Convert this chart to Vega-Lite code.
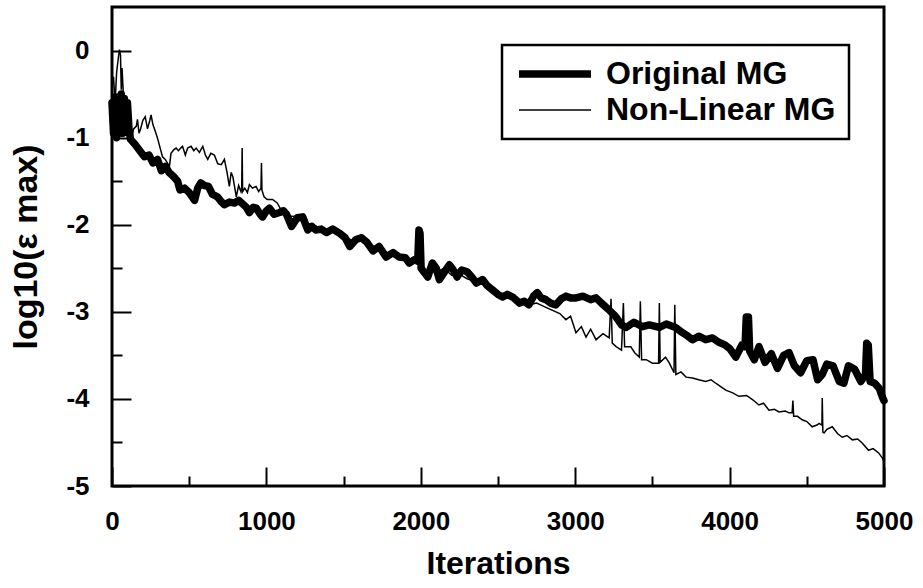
{
  "$schema": "https://vega.github.io/schema/vega-lite/v6.json",
  "width": 772,
  "height": 479,
  "autosize": "none",
  "padding": {"left": 112, "top": 7, "right": 39, "bottom": 102},
  "background": "white",
  "config": {
    "view": {"stroke": "black", "strokeWidth": 3},
    "font": "Liberation Sans"
  },
  "datasets": {
    "orig": [
      {"i":0,"v":-0.6},{"i":10,"v":-0.95},{"i":20,"v":-0.55},{"i":30,"v":-1.0},{"i":40,"v":-0.6},{"i":50,"v":-0.9},{"i":60,"v":-0.5},{"i":70,"v":-0.95},{"i":80,"v":-0.55},{"i":90,"v":-0.85},{"i":100,"v":-0.6},{"i":110,"v":-0.9},{"i":120,"v":-1.02},{"i":150,"v":-1.08},{"i":180,"v":-1.15},{"i":210,"v":-1.22},{"i":240,"v":-1.2},{"i":265,"v":-1.29},{"i":295,"v":-1.25},{"i":320,"v":-1.38},{"i":345,"v":-1.33},{"i":370,"v":-1.4},{"i":400,"v":-1.45},{"i":425,"v":-1.5},{"i":440,"v":-1.6},{"i":470,"v":-1.58},{"i":500,"v":-1.63},{"i":535,"v":-1.72},{"i":555,"v":-1.58},{"i":575,"v":-1.52},{"i":600,"v":-1.55},{"i":625,"v":-1.56},{"i":650,"v":-1.65},{"i":683,"v":-1.68},{"i":710,"v":-1.74},{"i":728,"v":-1.77},{"i":760,"v":-1.74},{"i":793,"v":-1.75},{"i":820,"v":-1.72},{"i":845,"v":-1.76},{"i":870,"v":-1.8},{"i":890,"v":-1.86},{"i":915,"v":-1.8},{"i":935,"v":-1.81},{"i":960,"v":-1.88},{"i":975,"v":-1.91},{"i":1000,"v":-1.84},{"i":1020,"v":-1.81},{"i":1050,"v":-1.88},{"i":1085,"v":-1.86},{"i":1110,"v":-1.84},{"i":1130,"v":-1.88},{"i":1163,"v":-2.02},{"i":1200,"v":-1.92},{"i":1235,"v":-1.91},{"i":1268,"v":-2.06},{"i":1295,"v":-2.02},{"i":1320,"v":-2.06},{"i":1355,"v":-2.05},{"i":1390,"v":-2.09},{"i":1430,"v":-2.05},{"i":1475,"v":-2.1},{"i":1510,"v":-2.15},{"i":1540,"v":-2.25},{"i":1580,"v":-2.17},{"i":1615,"v":-2.15},{"i":1650,"v":-2.2},{"i":1690,"v":-2.3},{"i":1730,"v":-2.25},{"i":1775,"v":-2.37},{"i":1820,"v":-2.32},{"i":1860,"v":-2.37},{"i":1900,"v":-2.38},{"i":1925,"v":-2.44},{"i":1960,"v":-2.4},{"i":1980,"v":-2.42},{"i":1988,"v":-2.06},{"i":1995,"v":-2.1},{"i":2002,"v":-2.5},{"i":2045,"v":-2.6},{"i":2075,"v":-2.44},{"i":2100,"v":-2.5},{"i":2120,"v":-2.63},{"i":2150,"v":-2.55},{"i":2185,"v":-2.46},{"i":2210,"v":-2.52},{"i":2235,"v":-2.6},{"i":2265,"v":-2.52},{"i":2300,"v":-2.54},{"i":2330,"v":-2.6},{"i":2360,"v":-2.67},{"i":2400,"v":-2.63},{"i":2430,"v":-2.7},{"i":2465,"v":-2.75},{"i":2500,"v":-2.8},{"i":2530,"v":-2.83},{"i":2560,"v":-2.8},{"i":2595,"v":-2.83},{"i":2640,"v":-2.9},{"i":2670,"v":-2.88},{"i":2700,"v":-2.92},{"i":2730,"v":-2.82},{"i":2755,"v":-2.78},{"i":2780,"v":-2.84},{"i":2810,"v":-2.86},{"i":2840,"v":-2.9},{"i":2875,"v":-2.92},{"i":2910,"v":-2.85},{"i":2940,"v":-2.82},{"i":2970,"v":-2.84},{"i":3005,"v":-2.84},{"i":3050,"v":-2.82},{"i":3100,"v":-2.86},{"i":3135,"v":-2.84},{"i":3170,"v":-2.9},{"i":3220,"v":-2.98},{"i":3260,"v":-3.05},{"i":3300,"v":-3.15},{"i":3330,"v":-3.18},{"i":3380,"v":-3.12},{"i":3435,"v":-3.17},{"i":3480,"v":-3.15},{"i":3545,"v":-3.18},{"i":3590,"v":-3.14},{"i":3650,"v":-3.18},{"i":3695,"v":-3.24},{"i":3730,"v":-3.28},{"i":3760,"v":-3.32},{"i":3800,"v":-3.28},{"i":3845,"v":-3.32},{"i":3890,"v":-3.3},{"i":3930,"v":-3.35},{"i":3970,"v":-3.38},{"i":4000,"v":-3.42},{"i":4040,"v":-3.52},{"i":4080,"v":-3.38},{"i":4100,"v":-3.4},{"i":4108,"v":-3.06},{"i":4122,"v":-3.06},{"i":4130,"v":-3.45},{"i":4160,"v":-3.55},{"i":4190,"v":-3.4},{"i":4230,"v":-3.58},{"i":4270,"v":-3.48},{"i":4310,"v":-3.65},{"i":4350,"v":-3.5},{"i":4385,"v":-3.47},{"i":4420,"v":-3.62},{"i":4460,"v":-3.7},{"i":4500,"v":-3.56},{"i":4540,"v":-3.55},{"i":4570,"v":-3.78},{"i":4600,"v":-3.72},{"i":4630,"v":-3.6},{"i":4670,"v":-3.62},{"i":4710,"v":-3.8},{"i":4740,"v":-3.82},{"i":4770,"v":-3.62},{"i":4810,"v":-3.66},{"i":4850,"v":-3.8},{"i":4880,"v":-3.72},{"i":4888,"v":-3.36},{"i":4898,"v":-3.38},{"i":4910,"v":-3.8},{"i":4940,"v":-3.82},{"i":4970,"v":-3.88},{"i":4990,"v":-3.98},{"i":5000,"v":-4.02}
    ],
    "nonlin": [
      {"i":0,"v":-0.4},{"i":10,"v":-0.3},{"i":20,"v":-0.6},{"i":30,"v":-0.25},{"i":40,"v":-0.1},{"i":48,"v":0.01},{"i":55,"v":-0.05},{"i":60,"v":-0.45},{"i":65,"v":-0.2},{"i":75,"v":-0.55},{"i":85,"v":-0.8},{"i":95,"v":-0.65},{"i":105,"v":-0.9},{"i":115,"v":-0.95},{"i":125,"v":-1.02},{"i":140,"v":-0.9},{"i":157,"v":-0.87},{"i":165,"v":-0.79},{"i":175,"v":-0.95},{"i":185,"v":-0.9},{"i":200,"v":-0.8},{"i":215,"v":-0.76},{"i":230,"v":-0.9},{"i":245,"v":-0.8},{"i":253,"v":-0.74},{"i":265,"v":-0.85},{"i":283,"v":-0.94},{"i":297,"v":-1.02},{"i":315,"v":-1.14},{"i":327,"v":-1.22},{"i":345,"v":-1.25},{"i":372,"v":-1.33},{"i":382,"v":-1.18},{"i":400,"v":-1.14},{"i":415,"v":-1.12},{"i":430,"v":-1.15},{"i":445,"v":-1.12},{"i":457,"v":-1.1},{"i":475,"v":-1.2},{"i":490,"v":-1.12},{"i":512,"v":-1.1},{"i":530,"v":-1.15},{"i":545,"v":-1.12},{"i":566,"v":-1.17},{"i":588,"v":-1.1},{"i":605,"v":-1.2},{"i":620,"v":-1.25},{"i":640,"v":-1.18},{"i":663,"v":-1.2},{"i":685,"v":-1.3},{"i":708,"v":-1.31},{"i":728,"v":-1.25},{"i":745,"v":-1.4},{"i":760,"v":-1.56},{"i":772,"v":-1.4},{"i":783,"v":-1.45},{"i":805,"v":-1.68},{"i":820,"v":-1.55},{"i":835,"v":-1.62},{"i":840,"v":-1.58},{"i":843,"v":-1.12},{"i":846,"v":-1.62},{"i":860,"v":-1.58},{"i":877,"v":-1.63},{"i":890,"v":-1.54},{"i":910,"v":-1.58},{"i":933,"v":-1.56},{"i":950,"v":-1.62},{"i":965,"v":-1.58},{"i":968,"v":-1.29},{"i":971,"v":-1.6},{"i":985,"v":-1.68},{"i":1005,"v":-1.71},{"i":1040,"v":-1.71},{"i":1070,"v":-1.75},{"i":1105,"v":-1.86},{"i":1150,"v":-1.9},{"i":1213,"v":-1.91},{"i":1250,"v":-1.98},{"i":1300,"v":-2.0},{"i":1350,"v":-2.04},{"i":1400,"v":-2.05},{"i":1450,"v":-2.08},{"i":1500,"v":-2.12},{"i":1550,"v":-2.18},{"i":1600,"v":-2.16},{"i":1650,"v":-2.22},{"i":1700,"v":-2.28},{"i":1750,"v":-2.3},{"i":1800,"v":-2.34},{"i":1850,"v":-2.36},{"i":1900,"v":-2.4},{"i":1950,"v":-2.42},{"i":1980,"v":-2.43},{"i":1990,"v":-2.08},{"i":1998,"v":-2.12},{"i":2005,"v":-2.55},{"i":2050,"v":-2.52},{"i":2100,"v":-2.55},{"i":2150,"v":-2.5},{"i":2200,"v":-2.58},{"i":2250,"v":-2.57},{"i":2300,"v":-2.62},{"i":2350,"v":-2.65},{"i":2400,"v":-2.68},{"i":2450,"v":-2.72},{"i":2500,"v":-2.78},{"i":2550,"v":-2.82},{"i":2600,"v":-2.85},{"i":2650,"v":-2.88},{"i":2700,"v":-2.92},{"i":2750,"v":-2.9},{"i":2800,"v":-2.94},{"i":2850,"v":-2.98},{"i":2900,"v":-3.02},{"i":2940,"v":-3.09},{"i":2970,"v":-3.05},{"i":3005,"v":-3.24},{"i":3040,"v":-3.17},{"i":3070,"v":-3.29},{"i":3100,"v":-3.2},{"i":3135,"v":-3.32},{"i":3180,"v":-3.25},{"i":3220,"v":-3.3},{"i":3232,"v":-2.85},{"i":3240,"v":-3.36},{"i":3265,"v":-3.4},{"i":3300,"v":-3.44},{"i":3312,"v":-2.9},{"i":3320,"v":-3.4},{"i":3360,"v":-3.4},{"i":3385,"v":-3.47},{"i":3415,"v":-3.52},{"i":3422,"v":-2.88},{"i":3430,"v":-3.55},{"i":3460,"v":-3.55},{"i":3500,"v":-3.59},{"i":3540,"v":-3.59},{"i":3545,"v":-2.9},{"i":3550,"v":-3.58},{"i":3585,"v":-3.52},{"i":3610,"v":-3.59},{"i":3640,"v":-3.7},{"i":3645,"v":-2.92},{"i":3652,"v":-3.72},{"i":3685,"v":-3.69},{"i":3718,"v":-3.75},{"i":3760,"v":-3.76},{"i":3800,"v":-3.78},{"i":3845,"v":-3.8},{"i":3880,"v":-3.78},{"i":3910,"v":-3.82},{"i":3975,"v":-3.9},{"i":4020,"v":-3.93},{"i":4060,"v":-3.97},{"i":4110,"v":-3.96},{"i":4150,"v":-4.01},{"i":4190,"v":-4.07},{"i":4220,"v":-4.05},{"i":4255,"v":-4.13},{"i":4290,"v":-4.12},{"i":4320,"v":-4.15},{"i":4360,"v":-4.14},{"i":4385,"v":-4.16},{"i":4405,"v":-4.16},{"i":4410,"v":-4.02},{"i":4415,"v":-4.2},{"i":4440,"v":-4.2},{"i":4470,"v":-4.24},{"i":4500,"v":-4.26},{"i":4535,"v":-4.32},{"i":4565,"v":-4.3},{"i":4580,"v":-4.28},{"i":4598,"v":-4.3},{"i":4600,"v":-3.99},{"i":4604,"v":-4.38},{"i":4612,"v":-4.39},{"i":4630,"v":-4.35},{"i":4665,"v":-4.32},{"i":4700,"v":-4.4},{"i":4730,"v":-4.44},{"i":4760,"v":-4.42},{"i":4795,"v":-4.47},{"i":4830,"v":-4.46},{"i":4860,"v":-4.51},{"i":4900,"v":-4.59},{"i":4930,"v":-4.57},{"i":4965,"v":-4.62},{"i":4990,"v":-4.68},{"i":5000,"v":-4.72}
    ]
  },
  "encoding": {
    "x": {
      "field": "i", "type": "quantitative",
      "scale": {"domain": [0, 5000], "nice": false},
      "axis": {
        "title": "Iterations",
        "values": [0,500,1000,1500,2000,2500,3000,3500,4000,4500,5000],
        "labelExpr": "datum.value % 1000 === 0 ? toString(datum.value) : ''",
        "grid": false, "domain": false,
        "tickColor": "black", "tickWidth": 2,
        "tickSize": {"condition": {"test": "datum.value % 1000 === 0", "value": -19}, "value": -10},
        "labelFont": "Liberation Sans", "labelFontSize": 26, "labelFontWeight": "bold", "labelColor": "black",
        "labelPadding": 41, "labelFlush": false, "labelOverlap": false,
        "titleFont": "Liberation Sans", "titleFontSize": 32, "titleFontWeight": "bold", "titleColor": "black",
        "titlePadding": 5
      }
    },
    "y": {
      "field": "v", "type": "quantitative",
      "scale": {"domain": [-5, 0.5], "nice": false},
      "axis": {
        "title": "log10(ε max)",
        "values": [-5,-4.5,-4,-3.5,-3,-2.5,-2,-1.5,-1,-0.5,0],
        "labelExpr": "datum.value % 1 === 0 ? toString(datum.value) : ''",
        "grid": false, "domain": false,
        "tickColor": "black", "tickWidth": 2,
        "tickSize": {"condition": {"test": "datum.value % 1 === 0", "value": -19}, "value": -10},
        "labelFont": "Liberation Sans", "labelFontSize": 26, "labelFontWeight": "bold", "labelColor": "black",
        "labelPadding": 42, "labelFlush": false, "labelOverlap": false,
        "titleFont": "Liberation Sans", "titleFontSize": 34, "titleFontWeight": "bold", "titleColor": "black",
        "titlePadding": 22
      }
    }
  },
  "layer": [
    {
      "data": {"name": "orig"},
      "mark": {"type": "line", "color": "black", "strokeJoin": "round", "strokeCap": "round"},
      "encoding": {
        "strokeWidth": {
          "datum": "Original MG",
          "type": "nominal",
          "scale": {"domain": ["Original MG", "Non-Linear MG"], "range": [7.5, 1.5]},
          "legend": {
            "title": null, "orient": "none", "legendX": 390, "legendY": 38,
            "symbolType": "M-1,0H5", "symbolSize": 576, "symbolStrokeColor": "black",
            "labelFont": "Liberation Sans", "labelFontSize": 32, "labelFontWeight": "bold", "labelColor": "black",
            "labelLimit": 500, "labelOffset": 59, "padding": 13, "rowPadding": 4,
            "strokeColor": "black", "fillColor": "white", "cornerRadius": 0,
            "encode": {"legend": {"update": {"strokeWidth": {"value": 2.5}}}}
          }
        }
      }
    },
    {
      "data": {"name": "nonlin"},
      "mark": {"type": "line", "color": "black", "strokeJoin": "miter"},
      "encoding": {
        "strokeWidth": {"datum": "Non-Linear MG", "type": "nominal"}
      }
    }
  ]
}
